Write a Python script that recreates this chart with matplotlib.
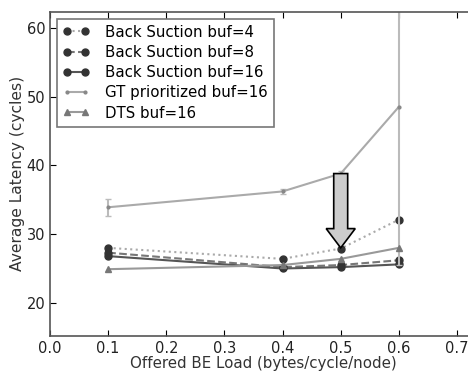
import matplotlib
matplotlib.use("Agg")
import matplotlib.pyplot as plt
from matplotlib.patches import FancyArrow

# offered load points
load = [0.1, 0.4, 0.5, 0.6]

# average latency per configuration
bs_buf4 = [28.0, 26.4, 27.9, 32.1]
bs_buf8 = [27.3, 25.2, 25.5, 26.2]
bs_buf16 = [26.8, 25.0, 25.2, 25.6]
gt_buf16 = [33.9, 36.2, 38.8, 48.5]
gt_err = [1.2, 0.4, 0.4, 23.0]
dts_buf16 = [24.9, 25.5, 26.4, 28.0]

xticks = [0.0, 0.1, 0.2, 0.3, 0.4, 0.5, 0.6, 0.7]
yticks = [20, 30, 40, 50, 60]

plt.rcParams['xtick.direction'] = 'in'
plt.rcParams['ytick.direction'] = 'in'
plt.rcParams['xtick.top'] = True
plt.rcParams['ytick.right'] = True

XMAX = 0.735
px_per_unit = 581.4
left_px = 50.0
fig = plt.figure(figsize=(4.68, 3.72), dpi=100)
ax = fig.add_axes([left_px / 468, 0.097, XMAX * px_per_unit / 468, 0.871])

h1, = ax.plot(load, bs_buf4, ':', color='#aaaaaa', lw=1.5, marker='o', ms=5,
              mfc='#333333', mec='#333333', label='Back Suction buf=4')
h2, = ax.plot(load, bs_buf8, '--', color='#777777', lw=1.5, marker='o', ms=5,
              mfc='#333333', mec='#333333', label='Back Suction buf=8')
h3, = ax.plot(load, bs_buf16, '-', color='#555555', lw=1.5, marker='o', ms=5,
              mfc='#333333', mec='#333333', label='Back Suction buf=16')
ax.errorbar(load, gt_buf16, yerr=gt_err, fmt='none', ecolor='#bbbbbb',
            elinewidth=1.5, capsize=2)
h4, = ax.plot(load, gt_buf16, '-', color='#aaaaaa', lw=1.5, marker='.', ms=4,
              mfc='#888888', mec='#888888', label='GT prioritized buf=16')
h5, = ax.plot(load, dts_buf16, '-', color='#999999', lw=1.5, marker='^', ms=5,
              mfc='#777777', mec='#777777', label='DTS buf=16')

# highlight arrow
ax.add_patch(FancyArrow(0.5, 38.8, 0, -10.8, width=0.024, head_width=0.05,
                        head_length=2.8, length_includes_head=True,
                        fc='#cccccc', ec='black', lw=1.2, zorder=5))

ax.set_xlim(0, XMAX)
ax.set_ylim(15.2, 62.3)
ax.set_xticks(xticks)
ax.set_yticks(yticks)
ax.tick_params(labelsize=10.5, length=4, labelcolor='#222222')
for s in ax.spines.values():
    s.set_color('#555555')
    s.set_linewidth(1.2)
ax.spines['right'].set_visible(False)
ax.set_xlabel('Offered BE Load (bytes/cycle/node)', fontsize=10.8, color='#333333', labelpad=0)
ax.set_ylabel('Average Latency (cycles)', fontsize=11.2, color='#333333', labelpad=1)

leg = ax.legend(handles=[h1, h2, h3, h4, h5], loc='upper left', fontsize=10.8,
                handlelength=1.8, handletextpad=1.0, numpoints=2,
                fancybox=False, borderaxespad=0.45, labelspacing=0.35,
                borderpad=0.4)
leg.get_frame().set_edgecolor('#555555')
leg.get_frame().set_linewidth(1.2)

fig.savefig('out.png', dpi=100)
